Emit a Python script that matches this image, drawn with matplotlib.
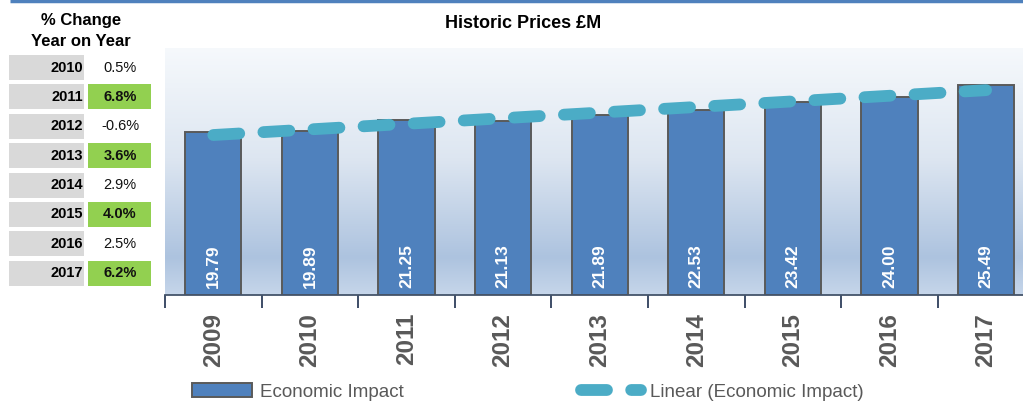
import matplotlib
matplotlib.use("Agg")
import matplotlib.pyplot as plt
from matplotlib.patches import Rectangle
from matplotlib.colors import LinearSegmentedColormap
import numpy as np

plt.rcParams['font.family'] = ['Liberation Sans', 'DejaVu Sans']

# Data
years = ['2009', '2010', '2011', '2012', '2013', '2014', '2015', '2016', '2017']
impact = [19.79, 19.89, 21.25, 21.13, 21.89, 22.53, 23.42, 24.00, 25.49]

table_years = ['2010', '2011', '2012', '2013', '2014', '2015', '2016', '2017']
table_change = [0.5, 6.8, -0.6, 3.6, 2.9, 4.0, 2.5, 6.2]

W, H = 1023, 401
fig = plt.figure(figsize=(W / 100, H / 100), dpi=100)

# overlay axes in pixel units for the side table and decorations
ax_t = fig.add_axes([0, 0, 1, 1])
ax_t.set_xlim(0, W)
ax_t.set_ylim(H, 0)
ax_t.axis('off')

ax_t.plot([10, W], [1, 1], color='#4f81bd', lw=2.5, solid_capstyle='butt')

ax_t.text(81, 20, '% Change', ha='center', va='center', fontsize=12, fontweight='bold')
ax_t.text(81, 42, 'Year on Year', ha='center', va='center', fontsize=12, fontweight='bold')

for i, (yr, ch) in enumerate(zip(table_years, table_change)):
    top = 55 + i * 29.4
    ax_t.add_patch(Rectangle((9, top), 75, 25, color='#d9d9d9', lw=0))
    good = ch > 3
    if good:
        ax_t.add_patch(Rectangle((88, top), 63, 25, color='#92d050', lw=0))
    ax_t.text(83, top + 12.5, yr, ha='right', va='center', fontsize=10.5, fontweight='bold')
    ax_t.text(120, top + 12.5, f'{ch:.1f}%', ha='center', va='center', fontsize=10.5,
              fontweight='bold' if good else 'normal', color='#111111')

ax_t.text(523, 24, 'Historic Prices £M', ha='center', va='center', fontsize=13, fontweight='bold')

# main chart
step = 96.6
ax = fig.add_axes([165 / W, (H - 295) / H, 9 * step / W, (295 - 48) / H])
x = np.arange(len(years))

grad = LinearSegmentedColormap.from_list(
    'bg', [(0, '#f6f9fc'), (0.45, '#dde6f1'), (0.85, '#adc3df'), (1, '#c6d6ea')])
ax.imshow(np.linspace(0, 1, 256).reshape(-1, 1), cmap=grad, aspect='auto',
          extent=(-0.5, 8.5, 0, 30), zorder=0)

bars = ax.bar(x, impact, width=0.58, color='#4f81bd', edgecolor='#5a5a5a', lw=1.4, zorder=2,
              label='Economic Impact')
for xi, v in zip(x, impact):
    ax.text(xi, 0.9, f'{v:.2f}', rotation=90, ha='center', va='bottom', color='white',
            fontsize=12.5, fontweight='bold', zorder=4)

k, b = np.polyfit(x, impact, 1)
trend, = ax.plot(x, k * x + b, color='#4bacc6', lw=8.5, dashes=(2.2, 2.05),
                 dash_capstyle='round', zorder=3, label='Linear (Economic Impact)')

ax.set_xlim(-0.5, 8.5)
ax.set_ylim(0, 30)
ax.set_xticks(x)
ax.set_xticklabels(years, rotation=90, fontsize=17.5, fontweight='bold', color='#595959')
ax.tick_params(axis='x', which='major', length=0, pad=13)
ax.set_xticks(np.arange(-0.5, 9, 1), minor=True)
ax.tick_params(axis='x', which='minor', length=9, width=1.3, color='#2e3f5c', direction='out')
ax.set_yticks([])
for s in ['top', 'right', 'left']:
    ax.spines[s].set_visible(False)
ax.spines['bottom'].set_color('#44546a')
ax.spines['bottom'].set_linewidth(1.3)

fig.legend(handles=[bars, trend], loc='center left', bbox_to_anchor=(192 / W, 1 - 392 / H),
           ncol=2, frameon=False, fontsize=13.5, handlelength=3.2, handletextpad=0.45,
           columnspacing=9.45, borderpad=0, borderaxespad=0, labelcolor='#595959')

fig.savefig('out.png', dpi=100)
